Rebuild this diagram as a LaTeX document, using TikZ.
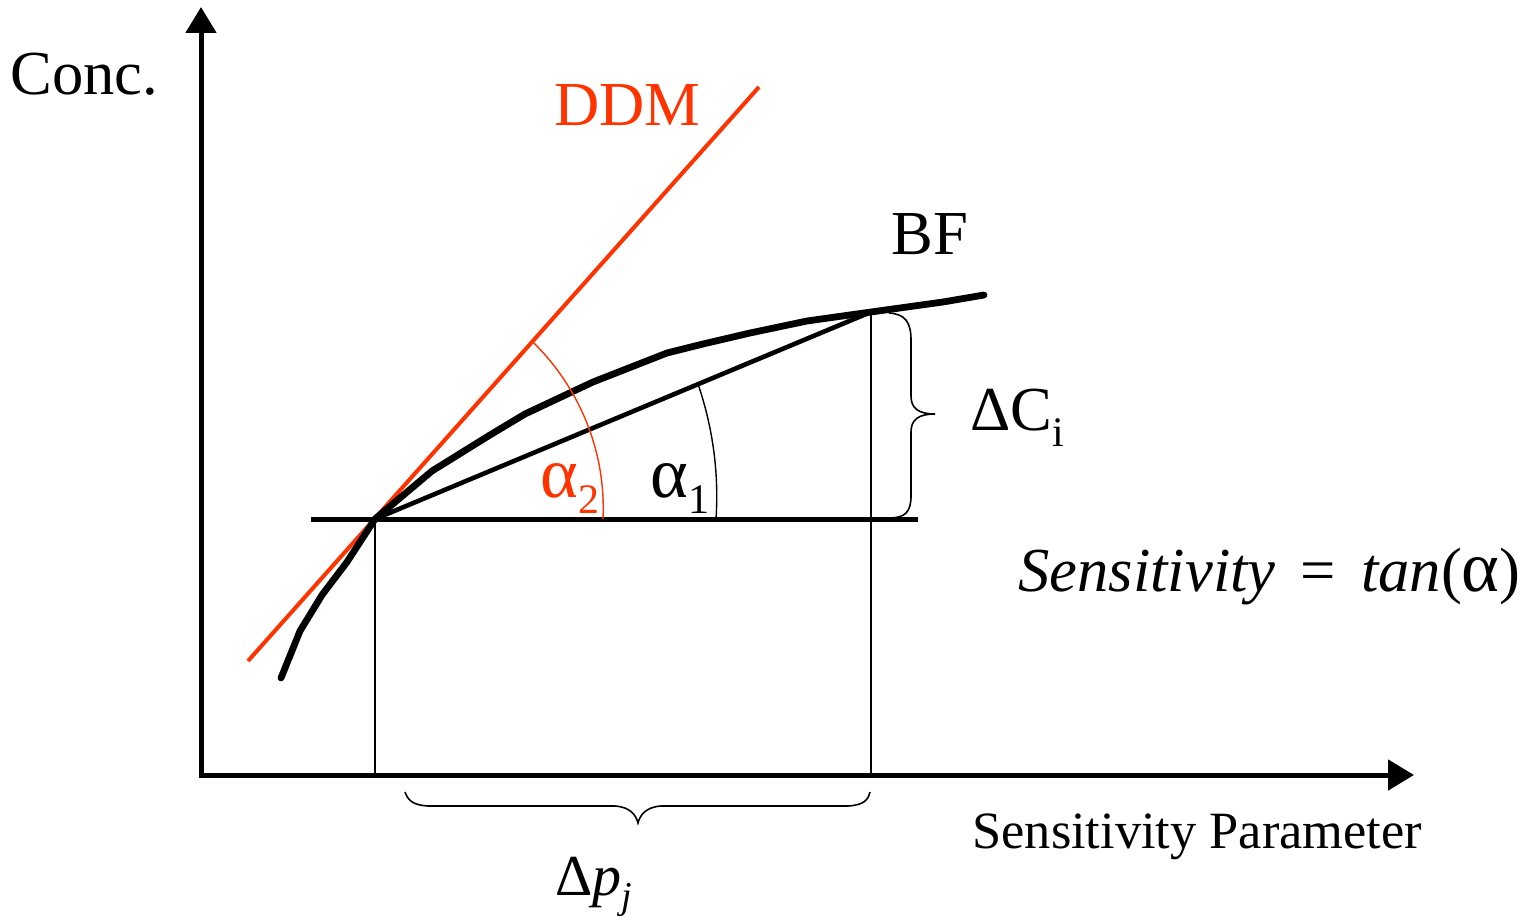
\documentclass[tikz,border=0pt]{standalone}
\usepackage{fontspec}
\setmainfont{Liberation Serif}
\usetikzlibrary{arrows.meta}
\definecolor{ddmred}{RGB}{255,51,0}
\newcommand{\lsub}[1]{\raisebox{-0.27em}{\fontsize{21}{21}\selectfont #1}}
\newcommand{\balpha}{{\fontsize{36}{36}\selectfont α}}
\begin{document}
\begin{tikzpicture}[x=0.5pt,y=-0.5pt,
  axis/.style={line width=2.5pt,-{Triangle[length=13pt,width=15pt]}},
  guide/.style={line width=0.8pt},
  lbl/.style={inner sep=0pt,anchor=base west,font=\fontsize{31.3}{36}\selectfont},
  anglearc/.style={line width=0.7pt},
  bracepath/.style={line width=0.8pt},
  curveline/.style={line width=3.4pt,line join=round,line cap=round},
]
\useasboundingbox (0,0) rectangle (1527,920);
% key points
\coordinate (ycorner) at (201,777.5);
\coordinate (xcorner) at (198.5,775);
\coordinate (ytip) at (201,7);
\coordinate (xtip) at (1414,775);
\coordinate (P) at (375,519);
\coordinate (Q) at (871,312);
\coordinate (hl) at (311,519);
\coordinate (hr) at (918,519);
\coordinate (Pfoot) at (375,775);
\coordinate (Qfoot) at (871,775);
\coordinate (ddmA) at (248,661);
\coordinate (ddmB) at (759,87);
% axes
\draw[axis] (ycorner) -- (ytip);
\draw[axis] (xcorner) -- (xtip);
% guides
\draw[guide] (P) -- (Pfoot);
\draw[guide] (Q) -- (Qfoot);
\draw[line width=2.5pt] (hl) -- (hr);
% DDM line
\draw[ddmred,line width=2pt] (ddmA) -- (ddmB);
% BF curve
\draw[curveline] (281,678) -- (300,631) -- (322,595) -- (347,562) -- (P) -- (432,471) -- (490,435) -- (525,414) -- (593,382) -- (667,353) -- (703,344) -- (750,333) -- (807,321) -- (Q) -- (943,302) -- (984,295);
% secant
\draw[line width=2.3pt] (P) -- (Q);
% angle arcs
\draw[anglearc,ddmred] plot[domain=0:48.2,samples=40] ({375+(228+0.19*\x)*cos(\x)},{519-(228+0.19*\x)*sin(\x)});
\draw[anglearc] plot[domain=0:22.65,samples=40] ({375+(341+0.4*\x)*cos(\x)},{519-(341+0.4*\x)*sin(\x)});
% braces
\draw[bracepath] (889,313) .. controls (905,314) and (911,322) .. (911,340) -- (911,396) .. controls (911,408) and (918,414) .. (935,414) .. controls (918,414) and (911,420) .. (911,432) -- (911,496) .. controls (911,512) and (905,518) .. (889,518);
\draw[bracepath] (405,792) .. controls (408,800) and (412,805) .. (428,806) -- (615,806) .. controls (630,807) and (636,815) .. (638,823) .. controls (640,815) and (646,807) .. (661,806) -- (848,806) .. controls (864,805) and (868,800) .. (870,792);
% labels
\node[lbl] (conc) at (10,95) {Conc.};
\node[lbl,text=ddmred] (ddm) at (554,126) {DDM};
\node[lbl] (bf) at (891,255) {BF};
\node[lbl] (dci) at (970,430) {ΔC\lsub{i}};
\node[lbl,text=ddmred] (a2) at (540,497) {\balpha\lsub{2}};
\node[lbl] (a1) at (650,497) {\balpha\lsub{1}};
\node[lbl] (sens) at (1018,591) {\itshape Sensitivity\/\upshape\hspace{0.4em}=\hspace{0.4em}\itshape tan\/\upshape(\balpha)};
\node[lbl,font=\fontsize{26.2}{30}\selectfont] (xlabel) at (972,848) {Sensitivity Parameter};
\node[lbl,font=\fontsize{29}{32}\selectfont] (dp) at (555,895) {Δ\itshape p\/\raisebox{-0.24em}{\fontsize{19}{19}\selectfont j}};
\end{tikzpicture}
\end{document}
